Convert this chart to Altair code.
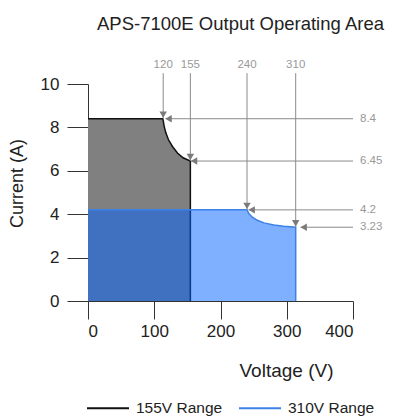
import altair as alt
import pandas as pd

# ---- data ----
gray_v = [0, 113, 115, 117.5, 121.5, 127.5, 135, 143.5, 154.5]
gray_i = [8.4, 8.4, 8.05, 7.75, 7.43, 7.12, 6.82, 6.6, 6.45]
blue_v = [0, 240, 243, 248, 255.5, 265.5, 280.5, 295.5, 313.5]
blue_i = [4.2, 4.2, 4.02, 3.86, 3.72, 3.6, 3.5, 3.44, 3.4]
range_names = ["155V Range", "310V Range"]

v_marks = [113.5, 154.5, 240, 313.5]
v_marks_i = [8.4, 6.45, 4.2, 3.4]
v_labels = ["120", "155", "240", "310"]

h_marks_i = [8.4, 6.45, 4.2, 3.4]
h_marks_v = [117, 155.5, 242.5, 321]
h_labels = ["8.4", "6.45", "4.2", "3.23"]

x_ticks = [0, 100, 200, 300, 400]
y_ticks = [0, 2, 4, 6, 8, 10]

# ---- tables ----
gray_df = pd.DataFrame({"v": gray_v, "i": gray_i})
blue_df = pd.DataFrame({"v": blue_v, "i": blue_i})

gray_line = pd.DataFrame({"v": gray_v + [gray_v[-1]], "i": gray_i + [0]})
gray_line["idx"] = range(len(gray_line))
gray_line["range"] = range_names[0]
blue_line = pd.DataFrame({"v": blue_v + [blue_v[-1]], "i": blue_i + [0]})
blue_line["idx"] = range(len(blue_line))
blue_line["range"] = range_names[1]

vdf = pd.DataFrame({"v": v_marks, "i": v_marks_i, "label": v_labels, "top": 10.5})
hdf = pd.DataFrame({"v": h_marks_v, "i": h_marks_i, "label": h_labels, "right": 400})

xs = alt.Scale(domain=[0, 400], nice=False)
ys = alt.Scale(domain=[0, 10], nice=False)

font = "Liberation Sans"
axis_col = "#333333"
ann_col = "#8a8a8a"

x_axis = alt.Axis(values=x_ticks, tickSize=18, labelPadding=4, labelFontSize=17,
                  labelColor="#222222", labelFont=font, domainColor=axis_col,
                  tickColor=axis_col, grid=False, title="Voltage (V)",
                  titleFont=font, titleFontSize=19, titleFontWeight="normal",
                  titleColor="#222222", titleX=198, titleY=75,
                  titleBaseline="alphabetic", titleAlign="center")
y_axis = alt.Axis(values=y_ticks, tickSize=21, labelPadding=8, labelFontSize=17,
                  labelColor="#222222", labelFont=font, domainColor=axis_col,
                  tickColor=axis_col, grid=False, title="Current (A)",
                  titleFont=font, titleFontSize=18, titleFontWeight="normal",
                  titleColor="#222222", titleX=-66, titleY=99,
                  titleBaseline="alphabetic", titleAlign="center", titleAngle=270)


def X(field):
    return alt.X(field, scale=xs, axis=x_axis)


def Y(field, **kw):
    return alt.Y(field, scale=ys, axis=y_axis, **kw)


gray_area = alt.Chart(gray_df).mark_area(color="#808080", opacity=1).encode(
    x=X("v:Q"), y=Y("i:Q", stack=None),
)

color = alt.Color("range:N",
                  scale=alt.Scale(domain=range_names, range=["#111111", "#3c82e6"]),
                  legend=alt.Legend(title=None, orient="none", direction="horizontal",
                                    legendX=-2, legendY=302, symbolType="stroke",
                                    symbolSize=1764, symbolStrokeWidth=2,
                                    labelFont=font, labelFontSize=15.5,
                                    labelColor="#222222", labelOffset=6,
                                    columnPadding=12, padding=0))

gray_outline = alt.Chart(gray_line).mark_line(strokeWidth=1.5).encode(
    x=X("v:Q"), y=Y("i:Q"), order="idx:Q", color=color,
)

blue_area = alt.Chart(blue_df).mark_area(color="#0061ff", opacity=0.5).encode(
    x=X("v:Q"), y=Y("i:Q", stack=None),
)

blue_outline = alt.Chart(blue_line).mark_line(strokeWidth=1.5).encode(
    x=X("v:Q"), y=Y("i:Q"), order="idx:Q", color=color,
)

v_rules = alt.Chart(vdf).mark_rule(color=ann_col, strokeWidth=1).encode(
    x=X("v:Q"), y=Y("top:Q"), y2="i:Q",
)
v_heads = alt.Chart(vdf).mark_point(shape="triangle-down", filled=True, size=55,
                                    color="#7a7a7a", opacity=1, yOffset=-4).encode(
    x=X("v:Q"), y=Y("i:Q"),
)
v_text = alt.Chart(vdf).mark_text(font=font, fontSize=11.5, color="#999999",
                                  baseline="bottom", dy=-3).encode(
    x=X("v:Q"), y=Y("top:Q"), text="label:N",
)

h_rules = alt.Chart(hdf).mark_rule(color=ann_col, strokeWidth=1).encode(
    x=X("right:Q"), x2="v:Q", y=Y("i:Q"),
)
h_heads = alt.Chart(hdf).mark_point(shape="triangle-left", filled=True, size=55,
                                    color="#7a7a7a", opacity=1, xOffset=3).encode(
    x=X("v:Q"), y=Y("i:Q"),
)
h_text = alt.Chart(hdf).mark_text(font=font, fontSize=11.5, color="#999999",
                                  align="left", baseline="middle", dx=7).encode(
    x=X("right:Q"), y=Y("i:Q"), text="label:N",
)

chart = alt.layer(
    gray_area, gray_outline, blue_area, blue_outline,
    v_rules, h_rules, v_heads, h_heads, v_text, h_text,
).properties(
    width=265, height=217,
    title=alt.TitleParams("APS-7100E Output Operating Area", font=font, fontSize=18.5,
                          fontWeight="normal", color="#222222", anchor="middle",
                          frame="group", dx=20, offset=11, baseline="alphabetic"),
    autosize=alt.AutoSizeParams(type="none"),
    padding={"left": 80, "top": 76, "right": 41, "bottom": 115},
).configure_view(stroke=None)

chart.save("out.html", embed_options={"renderer": "svg", "actions": False})
